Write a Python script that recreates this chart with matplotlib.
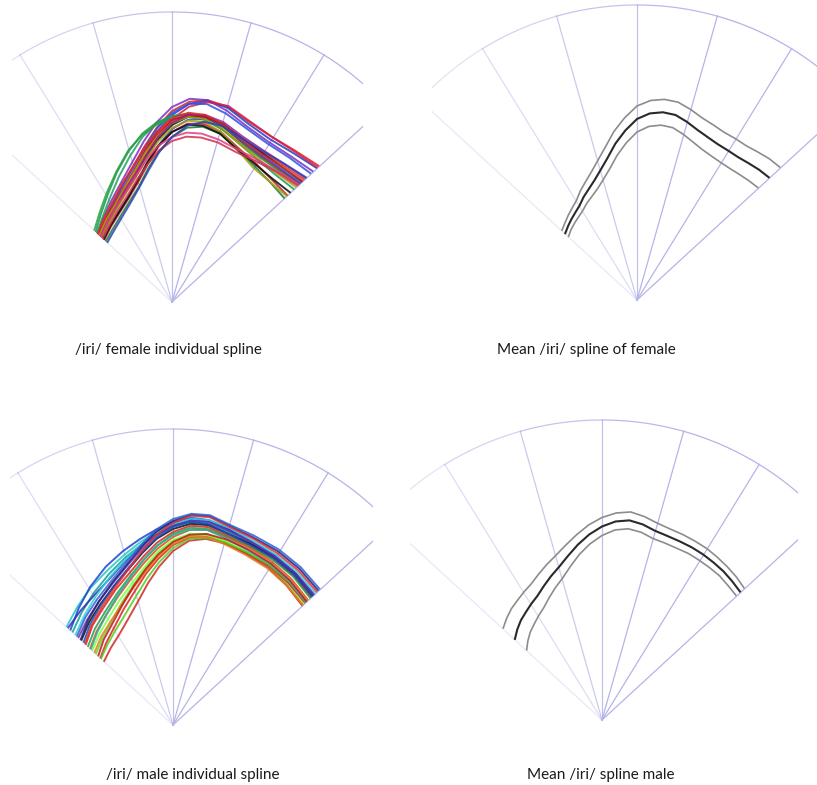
import numpy as np
import matplotlib
matplotlib.use('Agg')
from matplotlib import pyplot as plt

W, H = 817, 785

# fan of the ultrasound image (degrees from vertical, + to the right)
grid_angles = [-47.4, -31.6, -15.8, 0, 15.8, 31.6, 47.4]
grid_alpha = [0.3, 0.45, 0.7, 0.85, 1.0, 1.0, 1.0]
grid_color = '#b4b4e8'

# splines are radii (px) along the fan angles
angles_ind = [-47, -39, -31, -23, -16, -10, -5, 0, 5, 10, 16, 23, 31, 39, 47]
angles_mean = np.linspace(-47, 47, 25)

female_splines = [
    [100, 107, 115, 127, 141, 158, 175, 191, 201, 205, 203, 196, 193, 195, 200],
    [97, 104, 112, 123, 137, 154, 171, 187, 199, 204, 202, 194, 190, 192, 197],
    [102, 109, 118, 130, 145, 163, 180, 195, 204, 205, 199, 191, 187, 188, 192],
    [95, 101, 109, 119, 132, 149, 166, 183, 196, 203, 204, 197, 193, 194, 198],
    [99, 106, 114, 126, 140, 157, 174, 189, 199, 201, 196, 189, 185, 186, 189],
    [104, 113, 125, 141, 157, 171, 180, 186, 188, 186, 180, 172, 166, 164, 166],
    [102, 110, 121, 136, 152, 168, 179, 186, 189, 188, 183, 175, 170, 169, 172],
    [106, 115, 127, 142, 158, 170, 178, 183, 186, 185, 180, 173, 169, 170, 174],
    [98, 104, 111, 122, 135, 152, 167, 181, 188, 189, 185, 178, 175, 176, 180],
    [96, 102, 109, 119, 131, 147, 163, 177, 186, 188, 185, 178, 174, 174, 177],
    [100, 106, 113, 124, 137, 154, 169, 182, 188, 188, 183, 175, 171, 171, 174],
    [93, 98, 104, 113, 125, 141, 157, 173, 183, 186, 183, 176, 172, 172, 175],
    [99, 105, 112, 123, 136, 152, 166, 179, 186, 186, 181, 172, 167, 166, 169],
    [97, 103, 110, 121, 133, 149, 165, 179, 188, 190, 187, 180, 177, 178, 182],
    [101, 108, 116, 128, 141, 157, 171, 184, 190, 190, 185, 177, 173, 174, 178],
    [92, 97, 103, 112, 124, 140, 156, 170, 179, 181, 177, 168, 162, 158, 157],
    [90, 94, 100, 109, 120, 136, 151, 165, 175, 178, 175, 166, 159, 155, 153],
    [96, 101, 108, 118, 130, 146, 161, 174, 182, 183, 177, 166, 157, 155, 156],
    [93, 98, 104, 113, 126, 142, 157, 170, 178, 179, 175, 166, 161, 159, 161],
    [97, 103, 110, 119, 131, 145, 157, 165, 170, 171, 169, 166, 166, 168, 173],
    [94, 99, 106, 115, 127, 140, 152, 161, 166, 167, 166, 163, 164, 167, 171],
    [88, 92, 98, 107, 119, 134, 150, 165, 177, 183, 183, 178, 176, 178, 183],
]
female_colors = ['#e0201c', '#2040c8', '#7a30c0', '#d02050', '#3050e0',
                 '#1a9a50', '#20a060', '#2aa040', '#e03020', '#101010',
                 '#c01830', '#2850d0', '#b0a000', '#902090', '#e02828',
                 '#c02020', '#1a7a40', '#a8a010', '#0a0a0a', '#e04080',
                 '#d03050', '#3040b0']

male_splines = [
    [145, 152, 160, 168, 177, 186, 194, 201, 206, 206, 202, 198, 196, 193, 189],
    [140, 150, 161, 172, 181, 189, 196, 203, 208, 208, 204, 200, 198, 195, 191],
    [137, 145, 154, 164, 174, 183, 191, 199, 204, 204, 201, 197, 195, 192, 188],
    [143, 147, 152, 160, 171, 182, 192, 200, 206, 207, 203, 199, 197, 195, 192],
    [133, 141, 150, 161, 172, 183, 193, 201, 207, 208, 205, 201, 199, 197, 194],
    [119, 128, 136, 147, 158, 171, 183, 193, 200, 201, 197, 195, 194, 192, 188],
    [125, 133, 141, 151, 162, 175, 187, 196, 202, 203, 199, 197, 196, 194, 190],
    [116, 124, 132, 143, 155, 168, 180, 191, 198, 199, 196, 194, 193, 191, 187],
    [129, 136, 144, 154, 166, 179, 190, 199, 205, 206, 202, 199, 197, 195, 192],
    [113, 121, 129, 140, 152, 165, 177, 188, 196, 198, 195, 193, 191, 188, 184],
    [122, 131, 140, 151, 163, 176, 188, 198, 204, 204, 199, 196, 195, 193, 190],
    [126, 135, 144, 155, 167, 181, 194, 204, 211, 212, 207, 204, 203, 201, 198],
    [120, 129, 138, 149, 162, 177, 191, 202, 210, 211, 206, 203, 201, 199, 196],
    [131, 139, 147, 157, 169, 183, 196, 206, 212, 213, 208, 206, 205, 203, 200],
    [105, 112, 120, 132, 145, 159, 172, 184, 191, 193, 190, 187, 185, 181, 177],
    [99, 106, 114, 126, 139, 154, 167, 180, 188, 191, 189, 186, 184, 180, 176],
    [110, 117, 125, 136, 148, 161, 174, 185, 192, 194, 191, 188, 186, 183, 179],
    [94, 99, 105, 115, 128, 144, 159, 174, 185, 189, 189, 187, 186, 183, 180],
    [98, 104, 111, 121, 134, 149, 163, 177, 187, 190, 190, 188, 187, 185, 182],
    [107, 114, 121, 131, 143, 156, 169, 181, 189, 191, 188, 185, 183, 180, 177],
    [112, 120, 129, 141, 154, 168, 180, 190, 196, 198, 194, 190, 188, 185, 181],
    [102, 110, 118, 130, 144, 158, 171, 183, 191, 194, 193, 191, 189, 186, 182],
]
male_colors = ['#20c8c8', '#2040d0', '#10a0a0', '#3030b0', '#30d0e0',
               '#e02020', '#101010', '#20a050', '#7030b0', '#e05010',
               '#1050c0', '#202080', '#e03030', '#3060d0', '#60e030',
               '#e02020', '#80ff40', '#d02828', '#50d020', '#e08020',
               '#2ab0a0', '#c01818']

female_mean = [98, 101, 104, 107, 110.5, 116, 121, 127, 135, 145, 158, 170,
               181, 187, 189.5, 189, 185, 180.5, 177.5, 175.5, 175, 175,
               176.5, 178.5, 180]
female_sd = [4.5, 4.5, 5, 5.5, 6, 7, 8, 9, 10, 11, 12, 12.5,
             13, 13, 13, 13, 13, 13, 13.5, 13.5, 14, 14, 14.5, 15, 15]

male_mean = [119, 124, 128.5, 132, 136, 140, 146, 152.5, 159, 167.5, 177,
             186, 193.5, 199, 201.5, 199.8, 196.5, 195.3, 194.8, 194.6, 194,
             193, 192, 190.3, 188.5]
male_sd = [16, 15.5, 15, 14.5, 14, 13.5, 13, 12.5, 12, 11, 10, 9.5,
           9, 8.5, 8.5, 8, 8, 7.5, 7.5, 7, 7, 6.5, 6, 6, 5.5]

titles = ['/iri/ female individual spline', 'Mean /iri/ spline of female',
          '/iri/ male individual spline', 'Mean /iri/ spline male']


def polar_xy(angles, radii):
    th = np.radians(angles)
    r = np.asarray(radii, dtype=float)
    return r * np.sin(th), r * np.cos(th)


def panel(box, origin):
    x0, y0, x1, y1 = box
    ox, oy = origin
    ax = fig.add_axes([x0 / W, 1 - y1 / H, (x1 - x0) / W, (y1 - y0) / H])
    ax.set_xlim(x0 - ox, x1 - ox)
    ax.set_ylim(oy - y1, oy - y0)
    ax.axis('off')
    return ax


def draw_fan(ax, R):
    for a, al in zip(grid_angles, grid_alpha):
        x, y = polar_xy([a, a], [0, R])
        ax.plot(x, y, color=grid_color, lw=0.9, alpha=al, zorder=1)
    for i in range(len(grid_angles) - 1):
        th = np.linspace(grid_angles[i], grid_angles[i + 1], 40)
        x, y = polar_xy(th, np.full(th.size, R))
        al = (grid_alpha[i] + grid_alpha[i + 1]) / 2
        ax.plot(x, y, color=grid_color, lw=0.9, alpha=al, zorder=1)


def draw_mean(ax, mean, sd):
    m, s = np.array(mean), np.array(sd)
    for rr, col, lw in [(m + s, '#8c8c8c', 1.2), (m - s, '#8c8c8c', 1.2), (m, '#2a2a2a', 1.5)]:
        x, y = polar_xy(angles_mean, rr)
        ax.plot(x, y, color=col, lw=lw, zorder=2)


fig = plt.figure(figsize=(W / 100, H / 100), dpi=100)

# top left: female individuals
ax1 = panel((12, 0, 363, 312), (172, 302))
draw_fan(ax1, 290)
for r, c in zip(female_splines, female_colors):
    x, y = polar_xy(angles_ind, r)
    ax1.plot(x, y, color=c, lw=1.4, alpha=0.85, zorder=2)

# top right: female mean +- sd
ax2 = panel((432, 0, 817, 312), (637, 300))
draw_fan(ax2, 295)
draw_mean(ax2, female_mean, female_sd)

# bottom left: male individuals
ax3 = panel((10, 415, 373, 735), (173, 725))
draw_fan(ax3, 296)
for r, c in zip(male_splines, male_colors):
    x, y = polar_xy(angles_ind, r)
    ax3.plot(x, y, color=c, lw=1.4, alpha=0.85, zorder=2)

# bottom right: male mean +- sd
ax4 = panel((410, 415, 798, 730), (602, 720))
draw_fan(ax4, 300)
draw_mean(ax4, male_mean, male_sd)

label_pos = [(168, 350), (586, 350), (193, 775), (601, 775)]
for t, (px, py) in zip(titles, label_pos):
    fig.text(px / W, 1 - py / H, t, ha='center', va='center',
             fontsize=11, family='Lato', color='#1a1a1a')

fig.savefig('out.png', dpi=100)
